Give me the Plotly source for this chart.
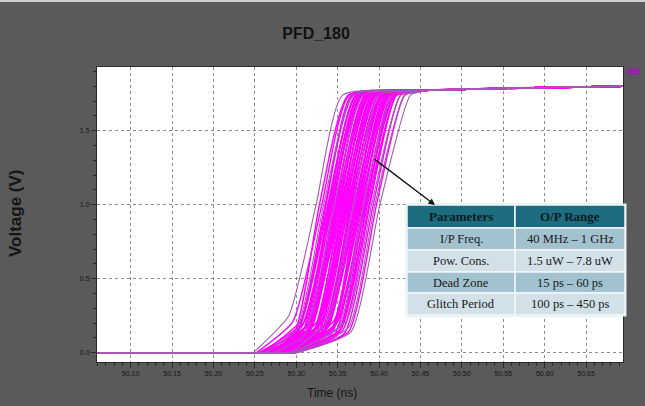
import plotly.graph_objects as go

# ---- Monte Carlo output-edge data (time in ns, voltage in V) ----
X_MIN, X_MAX = 50.0594, 50.6946
Y_MIN, Y_MAX = -0.063, 1.93

# time each run crosses 1.0 V
T_MID = [50.324, 50.328, 50.331, 50.333, 50.335, 50.336, 50.338, 50.339, 50.340, 50.341,
         50.342, 50.343, 50.344, 50.345, 50.346, 50.347, 50.348, 50.349, 50.350, 50.351,
         50.352, 50.353, 50.354, 50.355, 50.356, 50.357, 50.358, 50.359, 50.360, 50.361,
         50.362, 50.363, 50.364, 50.365, 50.366, 50.367, 50.368, 50.369, 50.370, 50.371,
         50.372, 50.373, 50.374, 50.375, 50.376, 50.377, 50.378, 50.379, 50.380, 50.381,
         50.382, 50.383, 50.384, 50.385, 50.386, 50.388, 50.389, 50.391, 50.393, 50.395,
         50.397, 50.401]
# end of the slow foot of the edge
T_FOOT = [50.291, 50.298, 50.296, 50.301, 50.301, 50.305, 50.302, 50.306, 50.307, 50.311,
          50.307, 50.311, 50.310, 50.314, 50.310, 50.314, 50.315, 50.319, 50.315, 50.319,
          50.318, 50.322, 50.318, 50.322, 50.323, 50.327, 50.323, 50.327, 50.326, 50.330,
          50.326, 50.330, 50.331, 50.335, 50.331, 50.335, 50.334, 50.338, 50.334, 50.338,
          50.339, 50.343, 50.339, 50.343, 50.342, 50.346, 50.342, 50.346, 50.347, 50.351,
          50.347, 50.351, 50.350, 50.354, 50.350, 50.355, 50.356, 50.361, 50.358, 50.363,
          50.363, 50.366]
V_FOOT = [0.25, 0.14, 0.21, 0.16, 0.12, 0.19, 0.15, 0.22, 0.13, 0.17,
          0.18, 0.14, 0.21, 0.16, 0.12, 0.19, 0.15, 0.22, 0.13, 0.17,
          0.18, 0.14, 0.21, 0.16, 0.12, 0.19, 0.15, 0.22, 0.13, 0.17,
          0.18, 0.14, 0.21, 0.16, 0.12, 0.19, 0.15, 0.22, 0.13, 0.17,
          0.18, 0.14, 0.21, 0.16, 0.12, 0.19, 0.15, 0.22, 0.13, 0.17,
          0.18, 0.14, 0.21, 0.16, 0.12, 0.19, 0.15, 0.22, 0.13, 0.17,
          0.14, 0.14]
# time each run leaves 0 V
T_LIFT = [50.248, 50.256, 50.252, 50.262, 50.266, 50.255, 50.270, 50.259, 50.268, 50.274,
          50.261, 50.277, 50.264, 50.280, 50.272, 50.258, 50.283, 50.267, 50.276, 50.285,
          50.263, 50.279, 50.271, 50.287, 50.281, 50.269, 50.289, 50.275, 50.284, 50.290,
          50.278, 50.286, 50.291, 50.273, 50.288, 50.292, 50.282, 50.293, 50.286, 50.294,
          50.289, 50.295, 50.284, 50.296, 50.291, 50.297, 50.288, 50.296, 50.298, 50.293,
          50.297, 50.299, 50.295, 50.298, 50.299, 50.297, 50.300, 50.299, 50.300, 50.301,
          50.300, 50.301]
# time each run reaches the top knee
T_KNEE = [50.356, 50.363, 50.364, 50.369, 50.369, 50.367, 50.373, 50.372, 50.372, 50.376,
          50.375, 50.379, 50.378, 50.376, 50.381, 50.380, 50.380, 50.384, 50.383, 50.387,
          50.386, 50.384, 50.389, 50.388, 50.388, 50.392, 50.391, 50.395, 50.394, 50.392,
          50.397, 50.396, 50.396, 50.400, 50.399, 50.403, 50.402, 50.400, 50.405, 50.404,
          50.404, 50.408, 50.407, 50.411, 50.410, 50.408, 50.413, 50.412, 50.412, 50.416,
          50.415, 50.419, 50.418, 50.416, 50.421, 50.421, 50.421, 50.426, 50.426, 50.431,
          50.431, 50.438]
V_MID, V_KNEE = 1.0, 1.74
# settling plateau shared by all runs
PLAT_T = [50.46, X_MAX]
PLAT_V = [1.772, 1.80]
# runs drawn in the muted purple shade
MUTED_RUNS = [0, 3, 14, 37, 49, 57, 59, 61]

X_TICK_FMT = ".2f"
Y_TICK_FMT = ".1f"

# ---- table contents ----
HEADERS = ["Parameters", "O/P Range"]
PARAMS = ["I/P Freq.", "Pow. Cons.", "Dead Zone", "Glitch Period"]
RANGES = ["40 MHz \u2013 1 GHz", "1.5 uW \u2013 7.8 uW", "15 ps \u2013 60 ps", "100 ps \u2013 450 ps"]

# ---- page geometry (pixels) ----
W, H = 645, 406
PL, PR, PT, PB = 97, 623, 67, 362


def px(xp):
    return (xp - PL) / (PR - PL)


def py(yp):
    return (PB - yp) / (PB - PT)


MAGENTA, MUTED = "#ff00ff", "#a45ab4"

fig = go.Figure()
order = [i for i in range(len(T_MID)) if i not in MUTED_RUNS] + MUTED_RUNS
for i in order:
    color = MUTED if i in MUTED_RUNS else MAGENTA
    width = 1.1 if i in MUTED_RUNS else 1.4
    # low level before the edge (straight)
    fig.add_trace(go.Scatter(x=[X_MIN, T_LIFT[i]], y=[0.0, 0.0], mode="lines",
                             line=dict(color=color, width=width),
                             showlegend=False, hoverinfo="skip"))
    # rising edge and settling (smoothed)
    xs = [T_LIFT[i], T_FOOT[i], T_MID[i], T_KNEE[i]] + PLAT_T
    ys = [0.0, V_FOOT[i], V_MID, V_KNEE] + PLAT_V
    fig.add_trace(go.Scatter(x=xs, y=ys, mode="lines",
                             line=dict(color=color, width=width, shape="spline", smoothing=0.5),
                             showlegend=False, hoverinfo="skip"))

axis_common = dict(
    showgrid=True, gridcolor="#8c8c8c", griddash="dot", gridwidth=1,
    showline=True, linecolor="#2a2a2a", linewidth=1, mirror=True,
    ticks="outside", ticklen=5, tickcolor="#2a2a2a",
    tickfont=dict(family="Arial, Liberation Sans", size=7, color="#151515"),
    zeroline=False,
)

fig.update_xaxes(range=[X_MIN, X_MAX], tick0=50.0, dtick=0.05, tickformat=X_TICK_FMT,
                 minor=dict(dtick=0.01, ticks="outside", ticklen=3, tickcolor="#2a2a2a",
                            showgrid=False),
                 **axis_common)
fig.update_yaxes(range=[Y_MIN, Y_MAX], tick0=0, dtick=0.5, tickformat=Y_TICK_FMT,
                 minor=dict(dtick=0.1, ticks="outside", ticklen=3, tickcolor="#2a2a2a",
                            showgrid=False),
                 **axis_common)

shapes = []
annotations = []

# table cells
col_x = [407, 515, 625]
row_y = [205, 228, 250, 272, 293, 315]
fills = ["#1d6c7f", "#a3c2cf", "#d2e0e7", "#a3c2cf", "#d2e0e7"]
shapes.append(dict(type="rect", xref="paper", yref="paper",
                   x0=px(col_x[0] - 1.5), x1=px(col_x[2] + 1.5),
                   y0=py(row_y[-1] + 1.5), y1=py(row_y[0] - 1.5),
                   fillcolor="#d8eaf0", line=dict(width=0), layer="above"))
for r in range(len(row_y) - 1):
    for c in range(2):
        shapes.append(dict(type="rect", xref="paper", yref="paper",
                           x0=px(col_x[c]), x1=px(col_x[c + 1]),
                           y0=py(row_y[r + 1]), y1=py(row_y[r]),
                           fillcolor=fills[r], line=dict(color="#f4f8fa", width=1.5),
                           layer="above"))

table_rows = [HEADERS] + [[p, v] for p, v in zip(PARAMS, RANGES)]
for r, row in enumerate(table_rows):
    for c, txt in enumerate(row):
        annotations.append(dict(
            x=px((col_x[c] + col_x[c + 1]) / 2), y=py((row_y[r] + row_y[r + 1]) / 2),
            xref="paper", yref="paper", text=txt, showarrow=False,
            xanchor="center", yanchor="middle",
            font=dict(family="Times New Roman, Liberation Serif",
                      size=13 if r == 0 else 12.5,
                      color="#0c1c22" if r == 0 else "#1a1a1a",
                      weight="bold" if r == 0 else "normal")))

# pointer from the waveform bundle to the table
annotations.append(dict(x=px(435), y=py(205), xref="paper", yref="paper",
                        ax=373 - 435, ay=158 - 205, axref="pixel", ayref="pixel",
                        text="", showarrow=True, arrowhead=2, arrowsize=1,
                        arrowwidth=1.3, arrowcolor="#111111"))

# axis titles
annotations.append(dict(x=px(15), y=py(213), xref="paper", yref="paper",
                        text="Voltage (V)", textangle=-90, showarrow=False,
                        xanchor="center", yanchor="middle",
                        font=dict(family="Arial, Liberation Sans", size=17,
                                  color="#151515", weight="bold")))
annotations.append(dict(x=px(332), y=py(393), xref="paper", yref="paper",
                        text="Time (ns)", showarrow=False,
                        xanchor="center", yanchor="middle",
                        font=dict(family="Arial, Liberation Sans", size=12,
                                  color="#151515")))

# trace-group marker at the top right of the plot
shapes.append(dict(type="rect", xref="paper", yref="paper",
                   x0=px(627), x1=px(640), y0=py(75), y1=py(68),
                   fillcolor="#8a2c9c", line=dict(width=0)))
# light edge along the top of the page
shapes.append(dict(type="rect", xref="paper", yref="paper",
                   x0=px(0), x1=px(W), y0=py(2), y1=py(0),
                   fillcolor="#cfcfcf", line=dict(width=0)))

fig.update_layout(
    width=W, height=H,
    margin=dict(l=PL, r=W - PR, t=PT, b=H - PB, pad=0),
    paper_bgcolor="#5a5a5a", plot_bgcolor="#ffffff",
    title=dict(text="PFD_180", x=316 / W, y=1 - 33 / H, xref="container", yref="container",
               xanchor="center", yanchor="middle",
               font=dict(family="Arial, Liberation Sans", size=16, color="#111111",
                         weight="bold")),
    shapes=shapes, annotations=annotations,
    showlegend=False,
)

fig.write_html("out.html")
